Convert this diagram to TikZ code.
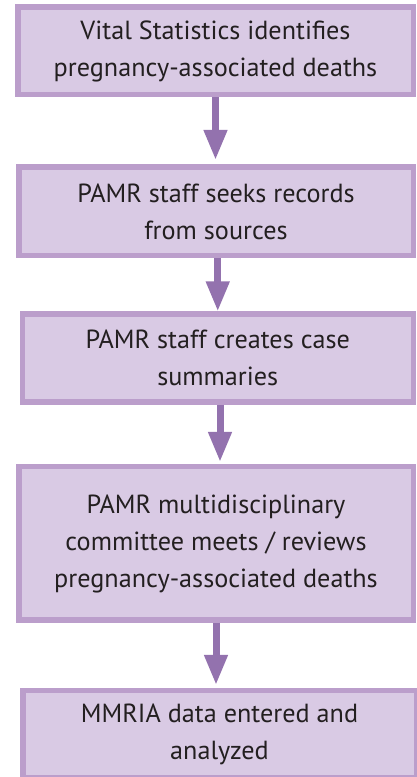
\documentclass[tikz,border=0pt]{standalone}
\usepackage{fontspec}
\setmainfont{PT Sans}
\usepackage{xcolor}
\usetikzlibrary{arrows.meta,positioning,calc}
\definecolor{boxfill}{RGB}{217,202,228}
\definecolor{boxline}{RGB}{187,158,203}
\definecolor{arrowcol}{RGB}{147,114,174}
\definecolor{textcol}{RGB}{35,31,32}

\begin{document}
\begin{tikzpicture}[x=1pt,y=1pt,
	stage/.style={draw=boxline,fill=boxfill,line width=5.5pt,align=center,inner sep=0pt,text=textcol,font=\fontsize{26.2}{37}\selectfont},
	flow/.style={draw=arrowcol,line width=7pt,-{Triangle[width=22pt,length=30pt]}}]
	\path[use as bounding box,clip] (0,0) rectangle (417,777);
	\node[stage,minimum width=395.5pt,minimum height=87.5pt] (vs) at (215.5,726) {Vital Statistics identifies\\pregnancy-associated deaths};
	\node[stage,minimum width=394.5pt,minimum height=88.5pt] (seek) at (216,565.5) {PAMR staff seeks records\\from sources};
	\node[stage,minimum width=391pt,minimum height=88pt] (summ) at (217.75,418.75) {PAMR staff creates case\\summaries};
	\node[stage,minimum width=394.5pt,minimum height=153.5pt] (cmte) at (216,233.5) {PAMR multidisciplinary\\committee meets / reviews\\pregnancy-associated deaths};
	\node[stage,minimum width=393.5pt,minimum height=87.5pt] (mmria) at (219.5,42.5) {MMRIA data entered and\\analyzed};
	\draw[flow,shorten >=4.5pt] (vs.south) -- (vs.south |- seek.north);
	\draw[flow] (seek.south -| summ.north) -- (summ.north);
	\draw[flow,shorten >=2pt] ([xshift=2.25pt]summ.south) -- ([xshift=2.25pt]summ.south |- cmte.north);
	\draw[flow,shorten >=3pt] (cmte.south) -- (cmte.south |- mmria.north);
\end{tikzpicture}
\end{document}
